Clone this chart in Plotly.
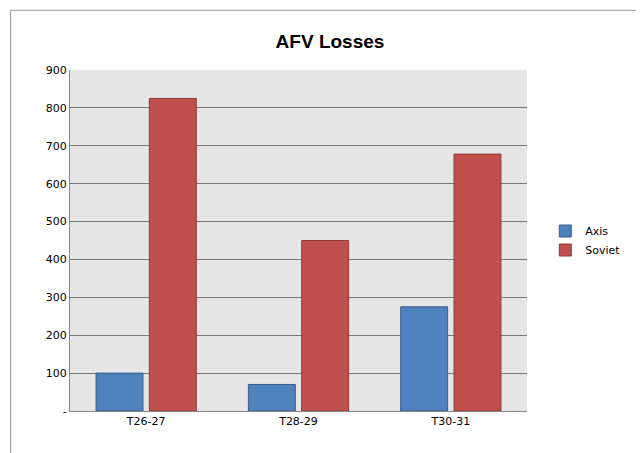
import plotly.graph_objects as go

categories = ["T26-27", "T28-29", "T30-31"]
axis_vals = [100, 70, 275]
soviet_vals = [825, 450, 678]
tick_vals = [0, 100, 200, 300, 400, 500, 600, 700, 800, 900]
tick_text = ["-", "100", "200", "300", "400", "500", "600", "700", "800", "900"]

fig = go.Figure()
fig.add_bar(name="Axis", x=categories, y=axis_vals, marker=dict(color="#4F81BD", line=dict(color="#385D8A", width=1)))
fig.add_bar(name="Soviet", x=categories, y=soviet_vals, marker=dict(color="#C0504D", line=dict(color="#8C3836", width=1)))

fig.update_layout(
    width=644, height=453,
    paper_bgcolor="white", plot_bgcolor="#E6E6E6",
    font=dict(family="DejaVu Sans", size=11, color="black"),
    title=dict(text="<b>AFV Losses</b>", x=0.5, xanchor="center", y=0.94, font=dict(size=19, family="Liberation Sans")),
    barmode="group", bargap=0.3, bargroupgap=0.12,
    margin=dict(l=62, r=125, t=62, b=50),
    legend=dict(x=1.04, y=0.5, yanchor="middle", bgcolor="rgba(0,0,0,0)", font=dict(size=11)),
    xaxis=dict(showline=True, linecolor="#888", ticks="", showgrid=False),
    yaxis=dict(range=[0, 900], tickvals=tick_vals, ticktext=tick_text, showgrid=True, gridcolor="#777",
               showline=True, linecolor="#888", zeroline=False, ticks=""),
    shapes=[dict(type="rect", xref="paper", yref="paper", x0=-0.13, y0=-0.14, x1=1.265, y1=1.175,
                 line=dict(color="#999", width=1))],
)
fig.write_html("out.html")
